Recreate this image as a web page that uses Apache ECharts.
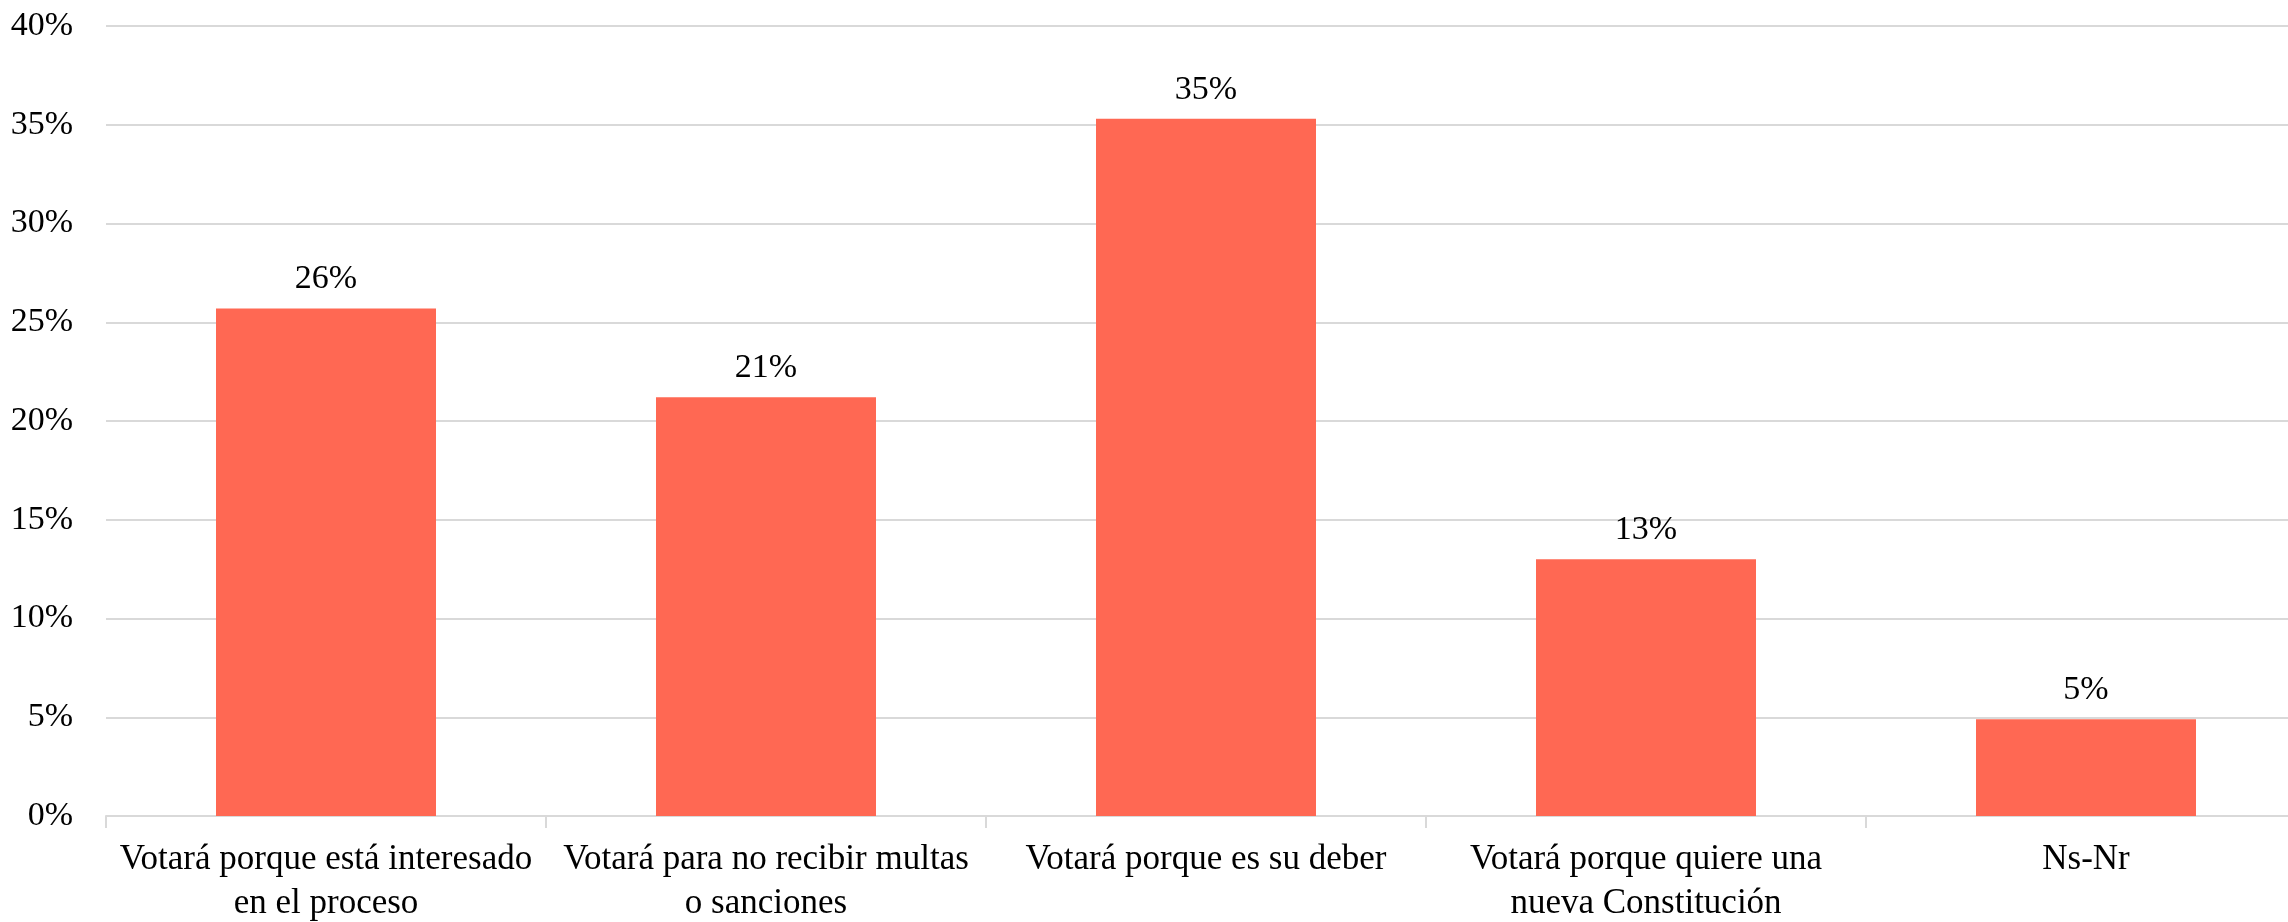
<!DOCTYPE html>
<html><head><meta charset="utf-8">
<script src="https://cdn.jsdelivr.net/npm/echarts@6/dist/echarts.min.js"></script>
<style>html,body{margin:0;padding:0;background:#fff}#c{width:2288px;height:922px}</style>
</head><body><div id="c"></div>
<script>
const categories = ["Votará porque está interesado\nen el proceso","Votará para no recibir multas\no sanciones","Votará porque es su deber","Votará porque quiere una\nnueva Constitución","Ns-Nr"];
const values = [25.7, 21.2, 35.3, 13.0, 4.9];
const labels = ["26%","21%","35%","13%","5%"];
const yTicks = [0,5,10,15,20,25,30,35,40];
const font = "Liberation Serif";
const chart = echarts.init(document.getElementById('c'));
chart.setOption({
  animation:false,
  grid:{left:106, top:26, width:2200, height:790, containLabel:false, outerBoundsMode:'none'},
  xAxis:{type:'category', data:categories,
    axisLine:{lineStyle:{color:'#D9D9D9', width:2}},
    axisTick:{show:true, length:12, lineStyle:{color:'#D9D9D9', width:2}},
    axisLabel:{color:'#000', fontFamily:font, fontSize:35, lineHeight:44, margin:22, interval:0}},
  yAxis:{type:'value', min:0, max:40, interval:5,
    axisLine:{show:false}, axisTick:{show:false},
    splitLine:{lineStyle:{color:'#D9D9D9', width:2}},
    axisLabel:{color:'#000', fontFamily:font, fontSize:34, margin:33, formatter:v=>yTicks.includes(v)?v+'%':''}},
  series:[{type:'bar', data:values, barWidth:'50%', itemStyle:{color:'#FF6853'},
    label:{show:true, position:'top', distance:12, color:'#000', fontFamily:font, fontSize:34,
      formatter:p=>labels[p.dataIndex]}}]
});
</script></body></html>
